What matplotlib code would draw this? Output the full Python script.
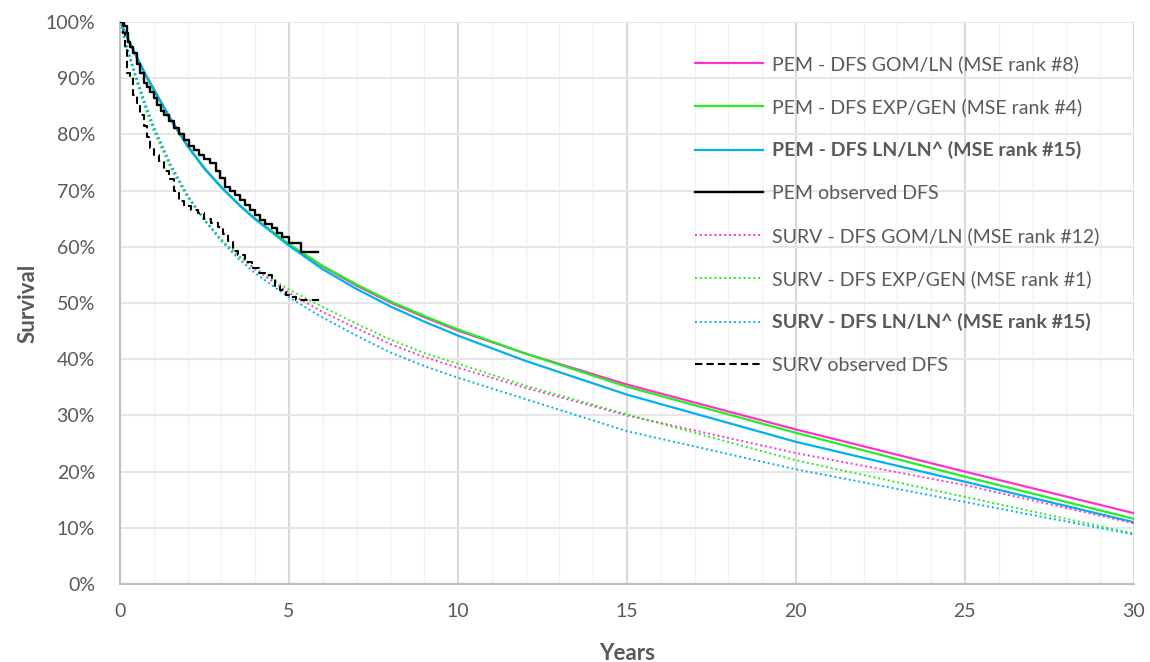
import matplotlib
matplotlib.use('Agg')
import matplotlib.pyplot as plt
from matplotlib.ticker import MultipleLocator, FuncFormatter

plt.rcParams['font.family'] = ['Lato', 'DejaVu Sans']

# model curves (years, survival %)
model_years = [0, 0.1, 0.25, 0.5, 0.75, 1, 1.5, 2, 2.5, 3, 3.5, 4, 5, 6, 7, 8,
               9, 10, 12, 15, 20, 25, 30]
pem_gom = [100, 98.7, 96.8, 93.6, 90.6, 87.9, 82.6, 77.9, 73.9, 70.6, 67.6,
           65.0, 60.4, 56.5, 53.1, 50.1, 47.5, 45.1, 41.0, 35.5, 27.5, 20.0, 12.6]
pem_exp = [100, 98.7, 96.8, 93.6, 90.6, 87.9, 82.6, 77.9, 73.9, 70.6, 67.6,
           65.0, 60.5, 56.6, 53.3, 50.3, 47.7, 45.3, 41.0, 35.1, 26.9, 19.1, 11.6]
pem_ln = [100, 98.8, 96.9, 93.8, 90.8, 88.1, 82.8, 78.0, 74.0, 70.6, 67.6,
          64.9, 60.2, 56.0, 52.5, 49.4, 46.7, 44.2, 39.7, 33.7, 25.3, 18.2, 11.0]
surv_gom = [100, 97.7, 94.5, 89.5, 85.0, 81.0, 74.3, 69.0, 64.8, 61.3, 58.4,
            56.0, 51.8, 48.4, 45.5, 42.7, 40.4, 38.5, 34.9, 30.0, 23.3, 17.6, 10.8]
surv_exp = [100, 97.6, 94.3, 89.2, 84.6, 80.6, 74.0, 68.8, 64.7, 61.3, 58.5,
            56.2, 52.4, 49.3, 46.3, 43.5, 41.1, 39.2, 35.3, 30.2, 22.0, 15.5, 9.0]
surv_ln = [100, 97.8, 94.8, 90.0, 85.5, 81.5, 74.7, 69.2, 64.8, 61.0, 57.9,
           55.3, 51.0, 47.4, 44.2, 41.2, 38.8, 36.7, 32.9, 27.2, 20.4, 14.6, 8.8]

# observed Kaplan-Meier style steps
pem_obs_t = [0, 0.12, 0.2, 0.25, 0.3, 0.4, 0.5, 0.6, 0.7, 0.8, 0.9, 1.0, 1.1,
             1.2, 1.3, 1.45, 1.6, 1.75, 1.9, 2.05, 2.2, 2.35, 2.5, 2.65, 2.85,
             2.95, 3.1, 3.25, 3.4, 3.55, 3.7, 3.85, 4.0, 4.15, 4.3, 4.5, 4.65,
             4.8, 5.0, 5.37, 5.86]
pem_obs_s = [100, 99.3, 98.0, 96.5, 95.5, 94.5, 92.5, 91.0, 89.2, 88.4, 87.5,
             86.4, 85.3, 84.2, 83.5, 82.4, 81.2, 80.0, 79.0, 78.0, 77.3, 76.4,
             75.6, 74.9, 73.5, 72.3, 70.6, 70.0, 69.3, 68.3, 67.4, 66.5, 65.7,
             64.8, 64.0, 63.3, 62.5, 61.8, 60.6, 59.1, 59.1]
surv_obs_t = [0, 0.1, 0.15, 0.2, 0.3, 0.4, 0.5, 0.6, 0.7, 0.8, 0.9, 1.0, 1.15,
              1.3, 1.45, 1.6, 1.75, 1.9, 2.1, 2.3, 2.5, 2.7, 2.9, 3.05, 3.2,
              3.35, 3.5, 3.7, 3.9, 4.1, 4.3, 4.5, 4.6, 4.75, 4.9, 5.05, 5.2, 6.0]
surv_obs_s = [100, 98.0, 95.0, 91.0, 90.3, 87.0, 85.5, 83.5, 81.5, 79.5, 77.5,
              76.3, 75.3, 73.5, 72.0, 70.0, 68.2, 67.3, 66.6, 66.0, 65.0, 64.2,
              63.5, 62.2, 61.0, 59.2, 58.5, 57.3, 56.3, 55.3, 55.0, 54.4, 53.0,
              52.3, 51.5, 51.0, 50.6, 50.6]

labels = ['PEM - DFS GOM/LN (MSE rank #8)',
          'PEM - DFS EXP/GEN (MSE rank #4)',
          'PEM - DFS LN/LN^ (MSE rank #15)',
          'PEM observed DFS',
          'SURV - DFS GOM/LN (MSE rank #12)',
          'SURV - DFS EXP/GEN (MSE rank #1)',
          'SURV - DFS LN/LN^ (MSE rank #15)',
          'SURV observed DFS']

magenta = '#ff33cc'
green = '#22ee22'
blue = '#00b0f0'

fig = plt.figure(figsize=(11.5, 6.62), dpi=100)
ax = fig.add_axes([0.1043, 0.1178, 0.8817, 0.849])

ax.plot(model_years, pem_gom, color=magenta, lw=1.6, label=labels[0])
ax.plot(model_years, pem_exp, color=green, lw=1.6, label=labels[1])
ax.plot(model_years, pem_ln, color=blue, lw=1.6, label=labels[2])
ax.plot(pem_obs_t, pem_obs_s, color='black', lw=1.7, drawstyle='steps-post',
        label=labels[3], zorder=5)
ax.plot(model_years, surv_gom, color=magenta, lw=1.4, ls=(0, (1, 1.5)),
        label=labels[4])
ax.plot(model_years, surv_exp, color=green, lw=1.4, ls=(0, (1, 1.5)),
        label=labels[5])
ax.plot(model_years, surv_ln, color=blue, lw=1.4, ls=(0, (1, 1.5)),
        label=labels[6])
ax.plot(surv_obs_t, surv_obs_s, color='black', lw=1.5, ls=(0, (3.5, 2)),
        drawstyle='steps-post', label=labels[7], zorder=5)

ax.set_xlim(0, 30)
ax.set_ylim(0, 100)
ax.xaxis.set_major_locator(MultipleLocator(5))
ax.xaxis.set_minor_locator(MultipleLocator(1))
ax.yaxis.set_major_locator(MultipleLocator(10))
ax.yaxis.set_major_formatter(FuncFormatter(lambda v, p: '%d%%' % v))

ax.grid(which='major', axis='x', color='#d9d9d9', lw=1.5)
ax.grid(which='minor', axis='x', color='#f2f2f2', lw=1.0)
ax.grid(which='major', axis='y', color='#e6e6e6', lw=1.5)
ax.set_axisbelow(True)

for side in ['top', 'right']:
    ax.spines[side].set_visible(False)
for side in ['left', 'bottom']:
    ax.spines[side].set_color('#bfbfbf')
    ax.spines[side].set_linewidth(1.5)

grey = '#595959'
ax.tick_params(which='both', length=0, colors=grey, labelsize=14)
ax.tick_params(axis='x', pad=14)
ax.tick_params(axis='y', pad=18)
ax.set_xlabel('Years', fontsize=16, fontweight='bold', color=grey, labelpad=16)
ax.set_ylabel('Survival', fontsize=16, fontweight='bold', color=grey, labelpad=5)

leg = ax.legend(loc='upper left', bbox_to_anchor=(0.550, 0.9725), frameon=False,
                fontsize=14, handlelength=3.5, handletextpad=0.45,
                labelspacing=1.3)
for i, txt in enumerate(leg.get_texts()):
    txt.set_color(grey)
    if i in (2, 6):
        txt.set_fontweight('bold')

fig.savefig('out.png', dpi=100)
